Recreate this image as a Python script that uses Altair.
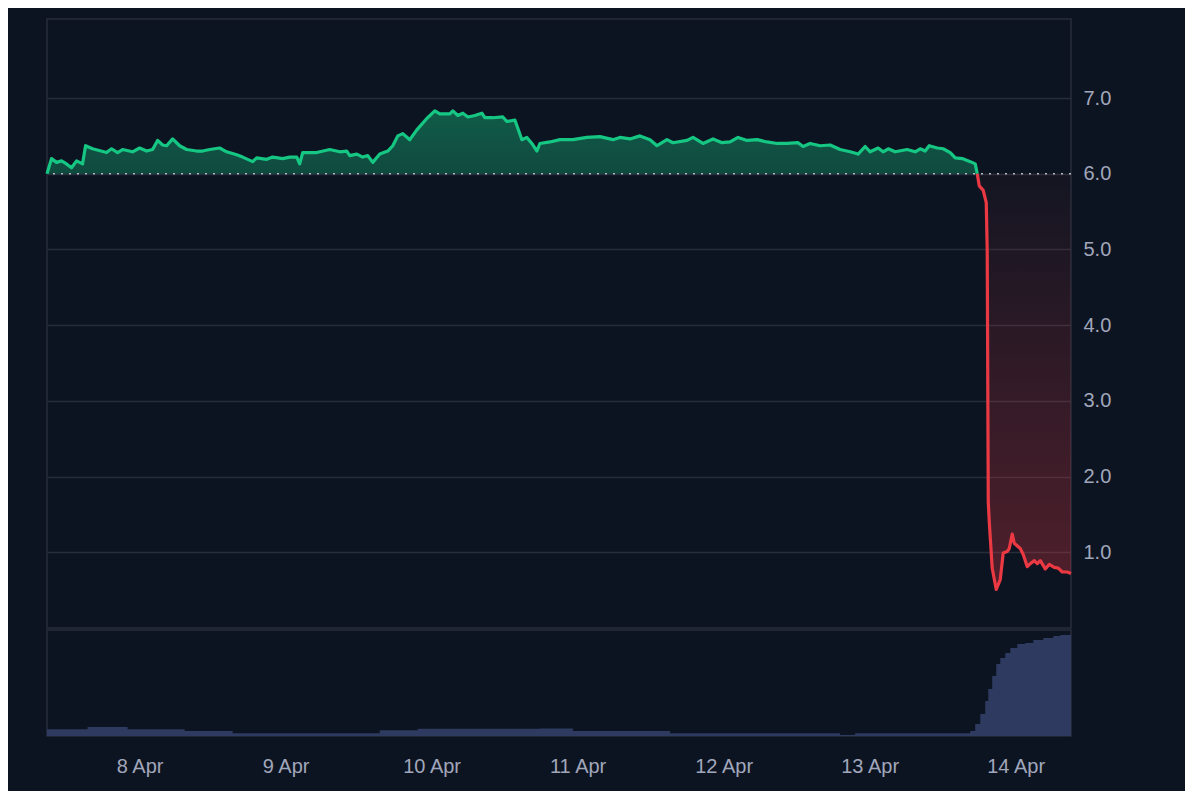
import altair as alt
import pandas as pd

# ---- price series (hours since 7 Apr 00:00, price) ----
hours = [8.78, 9.52, 10.35, 11.17, 11.99, 12.81, 13.64, 14.62, 15.12, 16.27, 18.57, 19.39, 20.38, 21.2, 22.85,
         24.0, 25.15, 26.14, 26.96, 27.78, 28.44, 29.43, 30.58, 31.73, 33.38, 34.36, 35.52, 37.16, 38.31, 39.96,
         40.94, 42.59, 43.25, 44.89, 45.88, 47.52, 48.68, 49.83, 50.32, 50.81, 53.12, 55.26, 56.9, 58.05, 58.55,
         59.7, 60.68, 61.51, 62.33, 63.48, 64.8, 65.62, 66.44, 67.26, 68.42, 69.57, 71.21, 72.53, 73.35, 75.0,
         75.49, 76.31, 77.13, 77.96, 79.11, 80.26, 80.75, 82.07, 83.71, 84.37, 85.69, 86.84, 87.66, 88.48, 89.31,
         89.8, 91.45, 93.09, 95.23, 97.53, 99.67, 101.81, 102.96, 104.61, 106.25, 107.9, 109.05, 110.69, 111.68,
         113.98, 114.97, 116.61, 118.26, 119.74, 121.06, 122.37, 123.85, 125.5, 127.14, 128.79, 130.43, 132.24,
         133.06, 134.22, 135.86, 137.51, 139.15, 140.8, 142.11, 143.26, 144.09, 145.4, 146.22, 147.05, 148.2,
         150.17, 151.49, 152.31, 153.13, 153.79, 155.11, 156.09, 157.25, 158.07, 159.22, 160.54, 161.36, 161.69,
         162.02, 162.67, 163.17, 163.33, 163.5, 163.66, 164.15, 164.81, 165.47, 165.96, 166.62, 166.95, 167.44,
         167.77, 168.76, 169.25, 169.91, 170.41, 171.06, 171.56, 172.05, 172.87, 173.53, 174.35, 175.01, 175.67,
         176.49, 177.1]
prices = [6.00, 6.20, 6.15, 6.17, 6.13, 6.08, 6.17, 6.13, 6.37, 6.33, 6.28, 6.33, 6.28, 6.32, 6.29,
          6.34, 6.30, 6.32, 6.44, 6.38, 6.37, 6.46, 6.37, 6.32, 6.30, 6.30, 6.32, 6.34, 6.29, 6.25,
          6.22, 6.16, 6.21, 6.19, 6.22, 6.20, 6.22, 6.22, 6.13, 6.28, 6.28, 6.32, 6.29, 6.30, 6.24,
          6.26, 6.22, 6.24, 6.15, 6.26, 6.30, 6.37, 6.50, 6.53, 6.45, 6.58, 6.73, 6.83, 6.79, 6.79,
          6.83, 6.77, 6.80, 6.75, 6.77, 6.80, 6.74, 6.74, 6.75, 6.69, 6.71, 6.45, 6.48, 6.40, 6.30,
          6.40, 6.42, 6.45, 6.45, 6.48, 6.49, 6.45, 6.48, 6.46, 6.50, 6.45, 6.37, 6.45, 6.41,
          6.44, 6.48, 6.40, 6.46, 6.41, 6.42, 6.48, 6.44, 6.45, 6.42, 6.40, 6.40, 6.41,
          6.36, 6.40, 6.37, 6.38, 6.32, 6.29, 6.26, 6.36, 6.29, 6.34, 6.29, 6.33, 6.29,
          6.32, 6.29, 6.33, 6.30, 6.37, 6.34, 6.33, 6.28, 6.21, 6.20, 6.16, 6.13, 6.00,
          5.84, 5.78, 5.62, 4.98, 1.67, 1.41, 0.79, 0.51, 0.64, 0.99, 1.01, 1.05, 1.24,
          1.12, 1.05, 0.97, 0.81, 0.85, 0.89, 0.85, 0.89, 0.78, 0.84, 0.80, 0.79, 0.74,
          0.74, 0.72]

# ---- volume series (hours since 7 Apr 00:00, relative volume) ----
vol_hours = [8.78, 15.45, 22.03, 31.4, 39.3, 63.48, 69.73, 89.8, 95.23, 111.19, 139.15, 141.62, 160.54,
             161.36, 162.18, 163.0, 163.5, 164.15, 164.81, 165.47, 166.29, 167.12, 168.27, 169.58, 170.9,
             172.54, 174.19, 175.34, 177.1]
vol_values = [6.7, 9, 6.7, 5, 2.7, 5.7, 7.3, 7.5, 5, 2.7, 1, 2.7, 5,
              12, 22, 35, 47, 60, 72, 78, 83, 88, 92, 93, 96,
              98, 100, 101, 102]

baseline = 6.0
cross_hour = 161.69
date_labels = [8, 9, 10, 11, 12, 13, 14]

BG = "#0d1421"
GREEN = "#16c784"
RED = "#ea3943"
GRID = "#272d3b"
TEXT = "#a1a7bb"
FONT = "Liberation Sans"

base_day = pd.Timestamp("2025-04-07")


def ts(h):
    return (base_day + pd.to_timedelta(h, unit="h")).strftime("%Y-%m-%dT%H:%M:%S")


df = pd.DataFrame({"t": [ts(h) for h in hours], "h": hours, "price": prices, "base": baseline})
green_df = df[df["h"] <= cross_hour]
red_df = df[df["h"] >= cross_hour]
vol_df = pd.DataFrame({"t": [ts(h) for h in vol_hours], "vol": vol_values})

x_scale = alt.Scale(domain=[ts(hours[0]), ts(hours[-1])], nice=False)
y_scale = alt.Scale(domain=[0, 8.044], nice=False, zero=False)

y_axis = alt.Axis(orient="right", values=[1, 2, 3, 4, 5, 6, 7], format=".1f", grid=True, gridColor=GRID,
                  gridWidth=1.5, domain=False, ticks=False, labelPadding=12, labelFontSize=20,
                  labelColor=TEXT, labelFont=FONT, title=None)

green_area = alt.Chart(green_df).mark_area(
    color=alt.Gradient(gradient="linear", x1=0, y1=0, x2=0, y2=1,
                       stops=[alt.GradientStop(color="rgba(22,199,132,0.40)", offset=0),
                              alt.GradientStop(color="rgba(22,199,132,0.30)", offset=1)])
).encode(
    x=alt.X("t:T", scale=x_scale, axis=None),
    y=alt.Y("price:Q", scale=y_scale, axis=y_axis),
    y2="base:Q",
)

red_area = alt.Chart(red_df).mark_area(
    color=alt.Gradient(gradient="linear", x1=0, y1=0, x2=0, y2=1,
                       stops=[alt.GradientStop(color="rgba(234,57,67,0.03)", offset=0),
                              alt.GradientStop(color="rgba(234,57,67,0.30)", offset=1)])
).encode(x="t:T", y="price:Q", y2="base:Q")

base_rule = alt.Chart().mark_rule(color="#b4b8c2", strokeDash=[2, 6], strokeWidth=1.5).encode(
    y=alt.datum(baseline)
)

green_line = alt.Chart(green_df).mark_line(color=GREEN, strokeWidth=3.2, strokeJoin="round").encode(
    x="t:T", y="price:Q"
)
red_line = alt.Chart(red_df).mark_line(color=RED, strokeWidth=3.2, strokeJoin="round").encode(
    x="t:T", y="price:Q"
)

price_panel = alt.layer(green_area, red_area, base_rule, green_line, red_line).properties(
    width=1024, height=609
)

vol_panel = alt.Chart(vol_df).mark_area(color="#2e3a5f", interpolate="step-after").encode(
    x=alt.X("t:T", scale=x_scale,
            axis=alt.Axis(values=[alt.DateTime(year=2025, month=4, date=d) for d in date_labels],
                          format="%-d %b", grid=False, domain=False, ticks=False, labelPadding=20,
                          labelFontSize=20, labelColor=TEXT, labelFont=FONT, labelFlush=False, title=None)),
    y=alt.Y("vol:Q", scale=alt.Scale(domain=[0, 106], nice=False), axis=None),
).properties(width=1024, height=106)

chart = alt.vconcat(price_panel, vol_panel, spacing=0).properties(
    padding={"left": 36, "top": 10, "right": 73, "bottom": 14},
    background=BG,
).configure_view(stroke=GRID, strokeWidth=1.5)

chart.save("out.html", embed_options={"renderer": "svg", "actions": False})
